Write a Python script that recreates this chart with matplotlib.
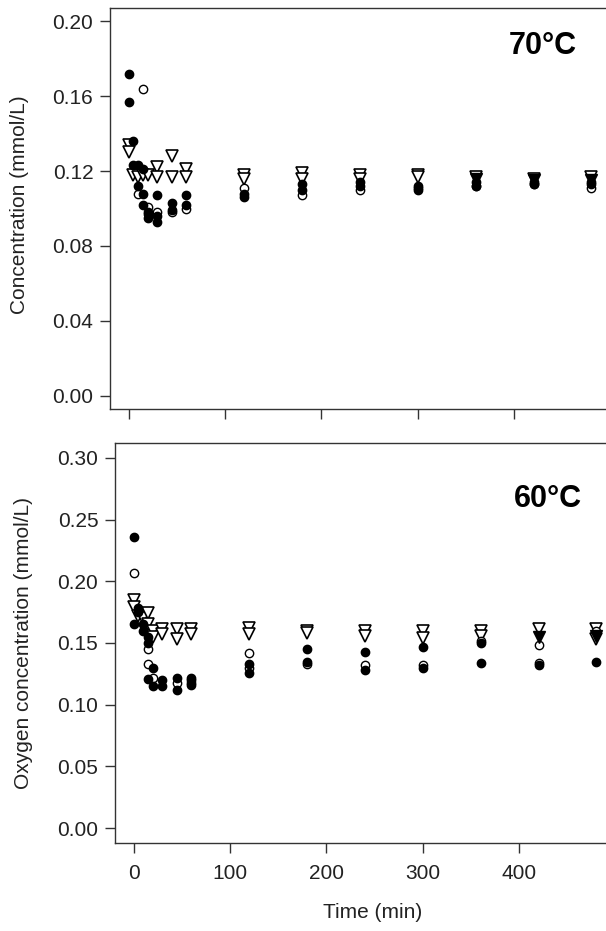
import matplotlib.pyplot as plt

plt.rcParams['font.family'] = ['Liberation Sans', 'DejaVu Sans']

# 70 C panel
top_fill_t = [0, 0, 5, 5, 10, 15, 10, 15, 15, 20, 20, 30, 30, 30, 45, 45, 60, 60,
              120, 120, 180, 180, 240, 240, 300, 300, 360, 360, 420, 420, 480, 480]
top_fill_v = [0.172, 0.157, 0.136, 0.123, 0.123, 0.121, 0.112, 0.108, 0.102, 0.098, 0.095,
              0.107, 0.096, 0.093, 0.103, 0.099, 0.107, 0.102,
              0.108, 0.106, 0.113, 0.110, 0.114, 0.112, 0.112, 0.110, 0.114, 0.112,
              0.114, 0.113, 0.114, 0.113]
top_open_t = [15, 10, 20, 20, 30, 45, 60, 120, 180, 240, 300, 360, 420, 480]
top_open_v = [0.164, 0.108, 0.101, 0.097, 0.098, 0.098, 0.100, 0.111, 0.107, 0.110,
              0.111, 0.112, 0.113, 0.111]
top_tri_t = [0, 0, 5, 10, 15, 20, 30, 30, 45, 45, 60, 60, 120, 120, 180, 180,
             240, 240, 300, 300, 360, 420, 480]
top_tri_v = [0.134, 0.130, 0.118, 0.117, 0.118, 0.118, 0.122, 0.117, 0.128, 0.117,
             0.121, 0.117, 0.118, 0.116, 0.119, 0.116, 0.118, 0.116, 0.118, 0.117,
             0.117, 0.116, 0.117]
top_ftri_t = [360, 420, 480]
top_ftri_v = [0.116, 0.115, 0.115]

# 60 C panel
bot_fill_t = [0, 0, 5, 5, 10, 10, 15, 15, 15, 20, 20, 30, 30, 45, 45, 60, 60, 60,
              120, 120, 180, 180, 240, 240, 300, 300, 360, 360, 420, 480]
bot_fill_v = [0.236, 0.165, 0.178, 0.175, 0.165, 0.160, 0.155, 0.150, 0.121, 0.130, 0.115,
              0.120, 0.115, 0.122, 0.112, 0.122, 0.118, 0.116,
              0.133, 0.126, 0.145, 0.135, 0.143, 0.128, 0.147, 0.130, 0.150, 0.134,
              0.132, 0.135]
bot_open_t = [0, 15, 15, 20, 45, 60, 120, 120, 180, 240, 300, 360, 420, 420, 480]
bot_open_v = [0.207, 0.145, 0.133, 0.122, 0.118, 0.120, 0.142, 0.130, 0.133, 0.132,
              0.132, 0.152, 0.148, 0.134, 0.160]
bot_tri_t = [0, 0, 5, 10, 15, 15, 20, 20, 30, 30, 45, 45, 60, 60, 120, 120, 180, 180,
             240, 240, 300, 300, 360, 360, 420, 480, 480]
bot_tri_v = [0.185, 0.179, 0.172, 0.170, 0.174, 0.165, 0.160, 0.155, 0.161, 0.157,
             0.161, 0.153, 0.161, 0.157, 0.162, 0.157, 0.160, 0.158, 0.160, 0.156,
             0.160, 0.154, 0.160, 0.156, 0.161, 0.161, 0.153]
bot_ftri_t = [420, 480]
bot_ftri_v = [0.155, 0.156]

fig = plt.figure(figsize=(6.06, 9.31), dpi=100)
ax1 = fig.add_axes([110 / 606, 1 - 409 / 931, 500 / 606, 401 / 931])
ax2 = fig.add_axes([115 / 606, 1 - 843 / 931, 500 / 606, 400 / 931])


def draw(ax, ft, fv, ot, ov, tt, tv, ftt, ftv):
    ax.plot(tt, tv, 'v', ms=8.5, mfc='white', mec='black', mew=1.2, ls='none')
    ax.plot(ot, ov, 'o', ms=6, mfc='white', mec='black', mew=1.0, ls='none')
    ax.plot(ft, fv, 'o', ms=6, mfc='black', mec='black', ls='none')
    ax.plot(ftt, ftv, 'v', ms=8.5, mfc='black', mec='black', ls='none')
    ax.set_xlim(-19.2, 499.2)
    ax.set_xticks([0, 100, 200, 300, 400])
    for s in ax.spines.values():
        s.set_color('#333333')
        s.set_linewidth(1.0)
    ax.tick_params(direction='out', length=7, width=1.0, color='#333333',
                   labelsize=15, labelcolor='#222222', pad=5)


draw(ax1, top_fill_t, top_fill_v, top_open_t, top_open_v,
     top_tri_t, top_tri_v, top_ftri_t, top_ftri_v)
ax1.set_ylim(-0.007, 0.207)
ax1.set_yticks([0.00, 0.04, 0.08, 0.12, 0.16, 0.20])
ax1.set_yticklabels(['0.00', '0.04', '0.08', '0.12', '0.16', '0.20'])
ax1.set_xticklabels([])
ax1.set_ylabel('Concentration (mmol/L)', fontsize=15, color='#222222')
ax1.yaxis.set_label_coords(-0.162, 0.51)
ax1.text(0.866, 0.905, '70°C', transform=ax1.transAxes, fontsize=22,
         fontweight='bold', ha='center', va='center')

draw(ax2, bot_fill_t, bot_fill_v, bot_open_t, bot_open_v,
     bot_tri_t, bot_tri_v, bot_ftri_t, bot_ftri_v)
ax2.set_ylim(-0.012, 0.312)
ax2.set_yticks([0.00, 0.05, 0.10, 0.15, 0.20, 0.25, 0.30])
ax2.set_yticklabels(['0.00', '0.05', '0.10', '0.15', '0.20', '0.25', '0.30'])
ax2.set_ylabel('Oxygen concentration (mmol/L)', fontsize=15, color='#222222')
ax2.yaxis.set_label_coords(-0.164, 0.5)
ax2.set_xlabel('Time (min)', fontsize=15, color='#222222')
ax2.xaxis.set_label_coords(0.516, -0.15)
ax2.tick_params(axis='x', pad=8)
ax2.text(0.866, 0.86, '60°C', transform=ax2.transAxes, fontsize=22,
         fontweight='bold', ha='center', va='center')

plt.savefig('out.png', dpi=100)
